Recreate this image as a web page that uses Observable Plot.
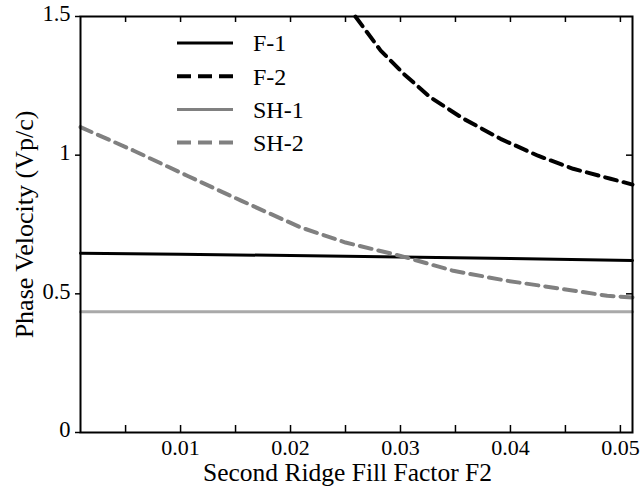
<!DOCTYPE html>
<html>
<head>
<meta charset="utf-8">
<script src="https://cdn.jsdelivr.net/npm/d3@7"></script>
<script src="https://cdn.jsdelivr.net/npm/@observablehq/plot@0.6"></script>
<style>
  body { margin: 0; background: #fff; }
  #wrap { width: 641px; height: 489px; }
</style>
</head>
<body>
<div id="wrap"></div>
<script>
// ---- data ----
const seriesNames = ["F-1", "F-2", "SH-1", "SH-2"];

const fillF1 = [0.0009, 0.01, 0.02, 0.03, 0.04, 0.0511];
const velF1  = [0.646, 0.643, 0.638, 0.633, 0.627, 0.620];

const fillF2 = [0.0259, 0.0282, 0.0303, 0.0327, 0.0357, 0.0391, 0.0425, 0.0457, 0.0491, 0.0511];
const velF2  = [1.500, 1.377, 1.293, 1.209, 1.132, 1.059, 0.998, 0.951, 0.915, 0.894];

const fillSH1 = [0.0009, 0.0511];
const velSH1  = [0.435, 0.435];

const fillSH2 = [0.0009, 0.0057, 0.0106, 0.0155, 0.0209, 0.025, 0.030, 0.0348, 0.0397, 0.0445, 0.0488, 0.0511];
const velSH2  = [1.101, 1.017, 0.926, 0.836, 0.740, 0.685, 0.637, 0.583, 0.547, 0.519, 0.493, 0.487];

const xTickLabels = [0.01, 0.02, 0.03, 0.04, 0.05];
const xMinorTicks = [0.005, 0.01, 0.015, 0.02, 0.025, 0.03, 0.035, 0.04, 0.045, 0.05];
const yTickLabels = [0, 0.5, 1, 1.5];
const yRightTicks = [0.5, 1];

const xTitle = "Second Ridge Fill Factor F2";
const yTitle = "Phase Velocity (Vp/c)";

// ---- build tables ----
const toRows = (xs, ys) => xs.map((f, i) => ({f, v: ys[i]}));
const rowsF1 = toRows(fillF1, velF1);
const rowsF2 = toRows(fillF2, velF2);
const rowsSH1 = toRows(fillSH1, velSH1);
const rowsSH2 = toRows(fillSH2, velSH2);

const styles = {
  "F-1":  {stroke: "#000000", strokeWidth: 3, dash: null},
  "F-2":  {stroke: "#000000", strokeWidth: 4, dash: "12,7"},
  "SH-1": {stroke: "#a9a9a9", strokeWidth: 3, dash: null, legendStroke: "#808080"},
  "SH-2": {stroke: "#808080", strokeWidth: 4, dash: "12,7"}
};

const W = 641, H = 489, mL = 80, mR = 9, mT = 16, mB = 57;
const innerH = H - mT - mB, innerW = W - mL - mR;
const font = "Liberation Serif, Times New Roman, serif";

const lineOpts = (name) => ({
  x: "f", y: "v",
  stroke: styles[name].stroke,
  strokeWidth: styles[name].strokeWidth,
  strokeDasharray: styles[name].dash
});

const chart = Plot.plot({
  width: W, height: H,
  marginLeft: mL, marginRight: mR, marginTop: mT, marginBottom: mB,
  style: {fontFamily: font, fontSize: "22px", color: "black", background: "white", overflow: "visible"},
  x: {domain: [0.0009, 0.0511]},
  y: {domain: [0, 1.5]},
  marks: [
    Plot.line(rowsSH1, lineOpts("SH-1")),
    Plot.line(rowsF1, lineOpts("F-1")),
    Plot.line(rowsSH2, lineOpts("SH-2")),
    Plot.line(rowsF2, lineOpts("F-2")),
    Plot.frame({stroke: "black", strokeWidth: 2}),
    // inward ticks bottom & top
    Plot.ruleX(xMinorTicks, {x: d => d, insetTop: innerH - 7, stroke: "black", strokeWidth: 1.5}),
    Plot.ruleX(xMinorTicks, {x: d => d, insetBottom: innerH - 6, stroke: "black", strokeWidth: 1.5}),
    // inward ticks right
    Plot.ruleY(yRightTicks, {y: d => d, insetLeft: innerW - 6, stroke: "black", strokeWidth: 1.5}),
    Plot.axisX(xTickLabels, {tickSize: 0, tickPadding: 7, tickFormat: d3.format(".2f"), fontSize: 22, label: null}),
    // left outward ticks
    Plot.axisY(yTickLabels, {tickSize: 5, strokeWidth: 1.5, tickFormat: () => "", label: null}),
    // left labels, nudged up slightly as in the reference
    Plot.axisY(yTickLabels, {tickSize: 0, tickPadding: 10, dy: -2.5, tickFormat: d => String(d), fontSize: 22.5, label: null}),
    Plot.text([xTitle], {text: d => d, frameAnchor: "bottom", textAnchor: "middle", lineAnchor: "middle", dy: 40, dx: -9, fontSize: 25.5}),
    Plot.text([yTitle], {text: d => d, frameAnchor: "left", textAnchor: "middle", lineAnchor: "middle", rotate: -90, dx: -56, fontSize: 26})
  ]
});

// ---- legend (inside the plot, top-left) ----
const svg = d3.select(chart);
const lg = svg.append("g").attr("class", "legend").attr("text-anchor", "start");
const lgX0 = 177, lgX1 = 233, lgY0 = 43, lgStep = 33.2, lgTextX = 253;
seriesNames.forEach((name, i) => {
  const s = styles[name];
  const y = lgY0 + i * lgStep;
  lg.append("line")
    .attr("x1", lgX0).attr("x2", lgX1).attr("y1", y).attr("y2", y)
    .attr("stroke", s.legendStroke || s.stroke)
    .attr("stroke-width", s.strokeWidth)
    .attr("stroke-dasharray", s.dash ? "14,7" : null);
  lg.append("text")
    .attr("x", lgTextX).attr("y", y).attr("dy", "0.35em")
    .attr("text-anchor", "start")
    .attr("font-family", font).attr("font-size", 24).attr("fill", "black")
    .text(name);
});

document.getElementById("wrap").appendChild(chart);
</script>
</body>
</html>
